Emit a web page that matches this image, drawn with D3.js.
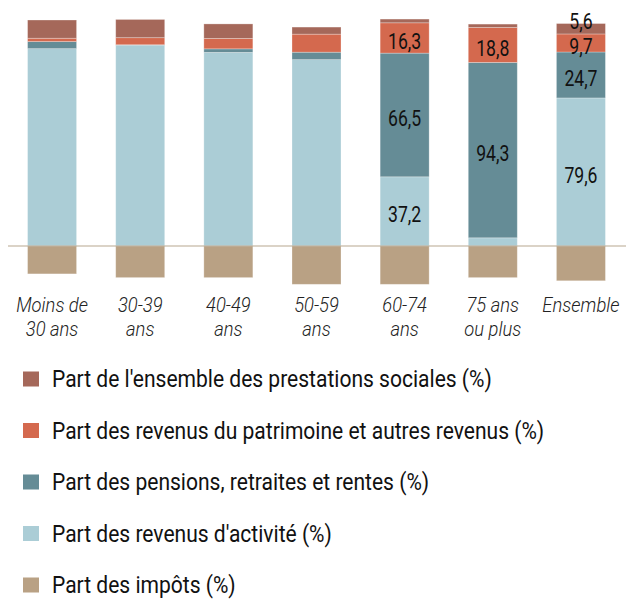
<!DOCTYPE html>
<html>
<head>
<meta charset="utf-8">
<script src="https://d3js.org/d3.v7.min.js"></script>
<style>
  body { margin: 0; background: #fff; }
  text { font-family: Roboto, "Noto Sans", sans-serif; }
</style>
</head>
<body>
<script>
// categories (age groups)
const groupes = [["Moins de", "30 ans"], ["30-39", "ans"], ["40-49", "ans"], ["50-59", "ans"], ["60-74", "ans"], ["75 ans", "ou plus"], ["Ensemble"]];

// series values (%)
const activite    = [106.1, 107.9, 104.1, 100.2, 37.2, 4.4, 79.6];
const pensions    = [3.8, 0.3, 1.9, 4.0, 66.5, 94.3, 24.7];
const patrimoine  = [1.8, 3.8, 5.6, 9.7, 16.3, 18.8, 9.7];
const prestations = [9.8, 9.8, 7.8, 3.8, 2.0, 1.8, 5.6];
const impots      = [-15.0, -17.0, -17.0, -20.6, -20.6, -17.0, -18.7];

// printed value labels (null = no label)
const lblActivite    = [null, null, null, null, "37,2", null, "79,6"];
const lblPensions    = [null, null, null, null, "66,5", "94,3", "24,7"];
const lblPatrimoine  = [null, null, null, null, "16,3", "18,8", "9,7"];
const lblPrestations = [null, null, null, null, null, null, "5,6"];

const legendLabels = [
  "Part de l'ensemble des prestations sociales (%)",
  "Part des revenus du patrimoine et autres revenus (%)",
  "Part des pensions, retraites et rentes (%)",
  "Part des revenus d'activité (%)",
  "Part des impôts (%)"
];

const colors = {
  prestations: "#a5685a",
  patrimoine: "#d4694e",
  pensions: "#658c96",
  activite: "#abcdd6",
  impots: "#b9a184"
};

const W = 626, H = 599;
const svg = d3.select("body").append("svg")
  .attr("width", W).attr("height", H);

const keys = ["activite", "pensions", "patrimoine", "prestations"];
const series = { activite, pensions, patrimoine, prestations };
const labels = { activite: lblActivite, pensions: lblPensions, patrimoine: lblPatrimoine, prestations: lblPrestations };

const cats = groupes.map(g => g.join(" "));
const x = d3.scaleBand().domain(cats).range([8, 625]).paddingInner(0.444).paddingOuter(0.222);
const y = d3.scaleLinear().domain([-25, 125]).range([246 + 25 * 1.86, 246 - 125 * 1.86]);

const rows = cats.map((c, i) => {
  const r = { cat: c };
  keys.forEach(k => r[k] = series[k][i]);
  return r;
});
const stacked = d3.stack().keys(keys)(rows);

const gBars = svg.append("g");
stacked.forEach(layer => {
  const k = layer.key;
  gBars.selectAll(null).data(layer).join("rect")
    .attr("x", d => x(d.data.cat))
    .attr("width", x.bandwidth())
    .attr("y", d => y(d[1]))
    .attr("height", d => y(d[0]) - y(d[1]))
    .attr("fill", colors[k])
    .attr("stroke", "#fff").attr("stroke-opacity", 0.35).attr("stroke-width", 0.8);
});

// taxes below zero
gBars.selectAll(null).data(impots).join("rect")
  .attr("x", (d, i) => x(cats[i]))
  .attr("width", x.bandwidth())
  .attr("y", y(0))
  .attr("height", d => y(d) - y(0))
  .attr("fill", colors.impots)
  .attr("stroke", "#fff").attr("stroke-opacity", 0.35).attr("stroke-width", 0.8);

// zero line
svg.append("line")
  .attr("x1", 8).attr("x2", W)
  .attr("y1", y(0)).attr("y2", y(0))
  .attr("stroke", "#b8a78f").attr("stroke-width", 1.2);

// value labels
stacked.forEach(layer => {
  const k = layer.key;
  layer.forEach((d, i) => {
    const t = labels[k][i];
    if (!t) return;
    const h = y(d[0]) - y(d[1]);
    let cy = (y(d[0]) + y(d[1])) / 2 + 3;
    if (h < 14) cy -= 10;
    const cx = x(d.data.cat) + x.bandwidth() / 2;
    svg.append("text")
      .attr("transform", `translate(${cx},${cy}) scale(0.8,1)`)
      .attr("text-anchor", "middle")
      .attr("dy", "0.35em")
      .attr("font-size", 22)
      .attr("fill", "#111")
      .text(t);
  });
});

// category labels
groupes.forEach((g, i) => {
  const cx = x(cats[i]) + x.bandwidth() / 2;
  g.forEach((line, j) => {
    svg.append("text")
      .attr("transform", `translate(${cx},${312 + j * 24}) scale(0.92,1)`)
      .attr("text-anchor", "middle")
      .attr("font-size", 20)
      .attr("font-style", "italic")
      .attr("font-weight", 300)
      .attr("fill", "#222")
      .text(line);
  });
});

// legend
const legColors = [colors.prestations, colors.patrimoine, colors.pensions, colors.activite, colors.impots];
const leg = svg.append("g");
legendLabels.forEach((l, i) => {
  const cy = 379 + i * 51.5;
  leg.append("rect")
    .attr("x", 23).attr("y", cy - 7.5)
    .attr("width", 16).attr("height", 15)
    .attr("fill", legColors[i]);
  leg.append("text")
    .attr("transform", `translate(52,${cy}) scale(0.915,1)`)
    .attr("dy", "0.35em")
    .attr("font-size", 23)
    .attr("fill", "#111")
    .text(l);
});
</script>
</body>
</html>
